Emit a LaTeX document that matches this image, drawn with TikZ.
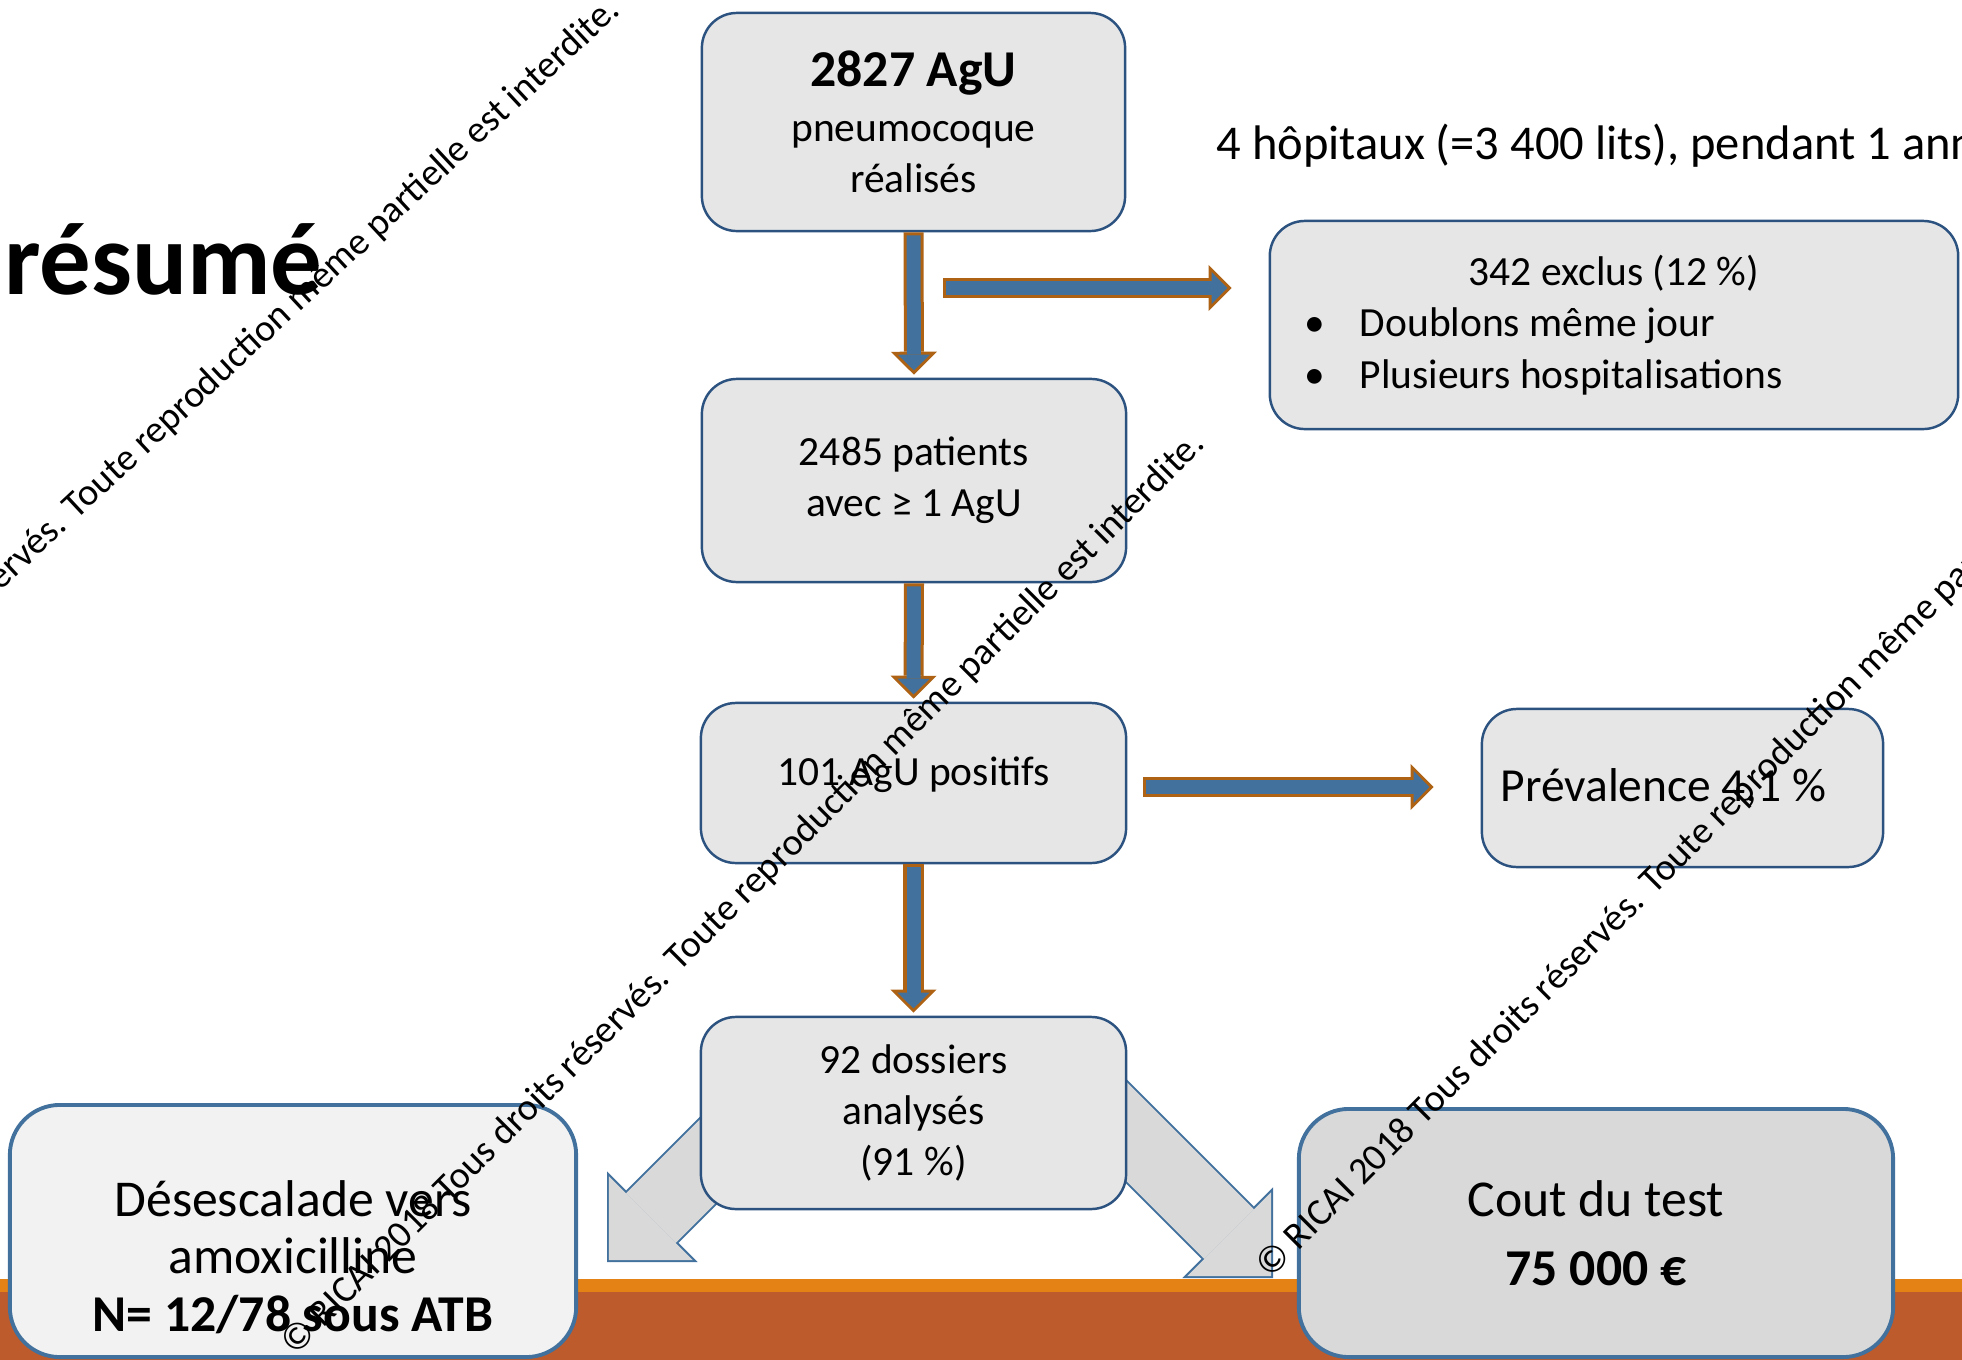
\documentclass[tikz,border=0pt]{standalone}
\usepackage{fontspec}
\setmainfont{Carlito}
\usetikzlibrary{arrows.meta,calc}
\definecolor{boxline}{RGB}{44,82,128}
\definecolor{boxfill}{RGB}{230,230,230}
\definecolor{botline}{RGB}{65,113,156}
\definecolor{arrowblue}{RGB}{65,113,156}
\definecolor{arrowbrown}{RGB}{174,98,20}
\definecolor{arrowgray}{RGB}{217,217,217}
\definecolor{barorange}{RGB}{228,130,22}
\definecolor{barrust}{RGB}{189,91,45}
\newcommand{\ricai}{© RICAI 2018 Tous droits réservés. Toute reproduction même partielle est interdite.}

\begin{document}
\begin{tikzpicture}[x=0.01cm,y=-0.01cm,
  box/.style={draw=boxline, line width=0.7pt, fill=boxfill, rounded corners=0.35cm,
    align=center, inner sep=0pt, font=\fontsize{11.8}{14.6}\selectfont},
  bigbox/.style={draw=botline, line width=1.1pt, rounded corners=0.5cm,
    align=center, inner sep=0pt, font=\fontsize{14.7}{16.4}\selectfont},
  flow/.style={preaction={draw=arrowbrown, line width=0.2cm, shorten >=0.03cm, shorten <=0pt,
      -{Triangle[length=0.23cm, width=0.46cm, line width=0pt]}},
    draw=arrowblue, line width=0.14cm, shorten >=0.073cm, shorten <=0.03cm,
    -{Triangle[length=0.157cm, width=0.32cm, line width=0pt]}},
  split/.style={preaction={draw=botline, line width=0.74cm, shorten >=0pt,
      -{Triangle[length=0.64cm, width=1.28cm, line width=0pt]}},
    draw=arrowgray, line width=0.70cm, shorten >=0.028cm,
    -{Triangle[length=0.592cm, width=1.184cm, line width=0pt]}},
  wmark/.style={font=\fontsize{10.8}{12}\selectfont, rotate=45, inner sep=0pt}]

  \useasboundingbox (0,0) rectangle (1962,1360);
  \clip (0,0) rectangle (1962,1360);

  \fill[barorange] (0,1279) rectangle (1962,1292);
  \fill[barrust] (0,1292) rectangle (1962,1360);

  \node[anchor=base west, font=\fontsize{29.2}{34}\selectfont\bfseries] (title) at (-8,294) {résumé};
  \node[anchor=base west, font=\fontsize{13.8}{16}\selectfont] (site) at (1204,159)
    {4 hôpitaux (=3 400 lits), pendant 1 année};

  \coordinate (l0) at (807,1062);
  \coordinate (l1) at (607,1262);
  \coordinate (r0) at (1073,1078);
  \coordinate (r1) at (1273,1278);
  \draw[split] (l0) -- (l1);
  \draw[split] (r0) -- (r1);

  \node[box, minimum width=4.23cm, minimum height=2.18cm] (agu) at (913.5,122)
    {{\fontsize{14.7}{16.3}\selectfont\bfseries 2827 AgU}\\[1pt] pneumocoque\\ réalisés};
  \node[box, minimum width=4.24cm, minimum height=2.03cm] (pat) at (914,480.5)
    {2485 patients\\ avec ≥ 1 AgU};
  \node[box, minimum width=4.25cm, minimum height=1.60cm] (pos) at (913.5,783)
    {101 AgU positifs\rule[-0.23cm]{0pt}{0.23cm}};
  \node[box, minimum width=4.25cm, minimum height=1.92cm] (dos) at (913.5,1113)
    {92 dossiers\\ analysés\\ (91 \%)};
  \node[box, align=flush center, minimum width=6.88cm, minimum height=2.08cm, text width=6.88cm] (excl)
    at (1614,325)
    {342 exclus (12 \%)\\
     \makebox[6.88cm][l]{\makebox[0.9cm][l]{\hspace{0.35cm}\textbullet}Doublons même jour}\\
     \makebox[6.88cm][l]{\makebox[0.9cm][l]{\hspace{0.35cm}\textbullet}Plusieurs hospitalisations}};
  \node[box, minimum width=4.01cm, minimum height=1.58cm, font=\fontsize{13.5}{15}\selectfont] (prev)
    at (1682.5,788) {Prévalence 4,1 \%\hspace{0.38cm}};

  \node[bigbox, fill=black!5, minimum width=5.66cm, minimum height=2.52cm] (desc) at (293,1231)
    {\rule{0pt}{0.88cm}Désescalade vers\\ amoxicilline\\ \textbf{N= 12/78 sous ATB}};
  \node[bigbox, fill=arrowgray, minimum width=5.94cm, minimum height=2.48cm] (cout) at (1596,1233)
    {Cout du test\\[3.2pt] \textbf{75 000 €}};

  \draw[flow] (agu.south) -- (pat.north);
  \draw[flow] (pat.south) -- (pos.north);
  \draw[flow] (pos.south) -- (dos.north);
  \coordinate (e0) at (943,288);
  \draw[flow] (e0) -- ($(e0 -| excl.west)+(-34,0)$);
  \draw[flow] ($(pos.east)+(16,4)$) -- ($(pos.east -| prev.west)+(-44,4)$);

  \node[wmark, rotate=-2, anchor=base east] (wm1) at (622,12) {\ricai};
  \node[wmark, anchor=base west] (wm2) at (295,1357) {\ricai};
  \node[wmark, anchor=base west] (wm3) at (1270,1280) {\ricai};
\end{tikzpicture}
\end{document}
